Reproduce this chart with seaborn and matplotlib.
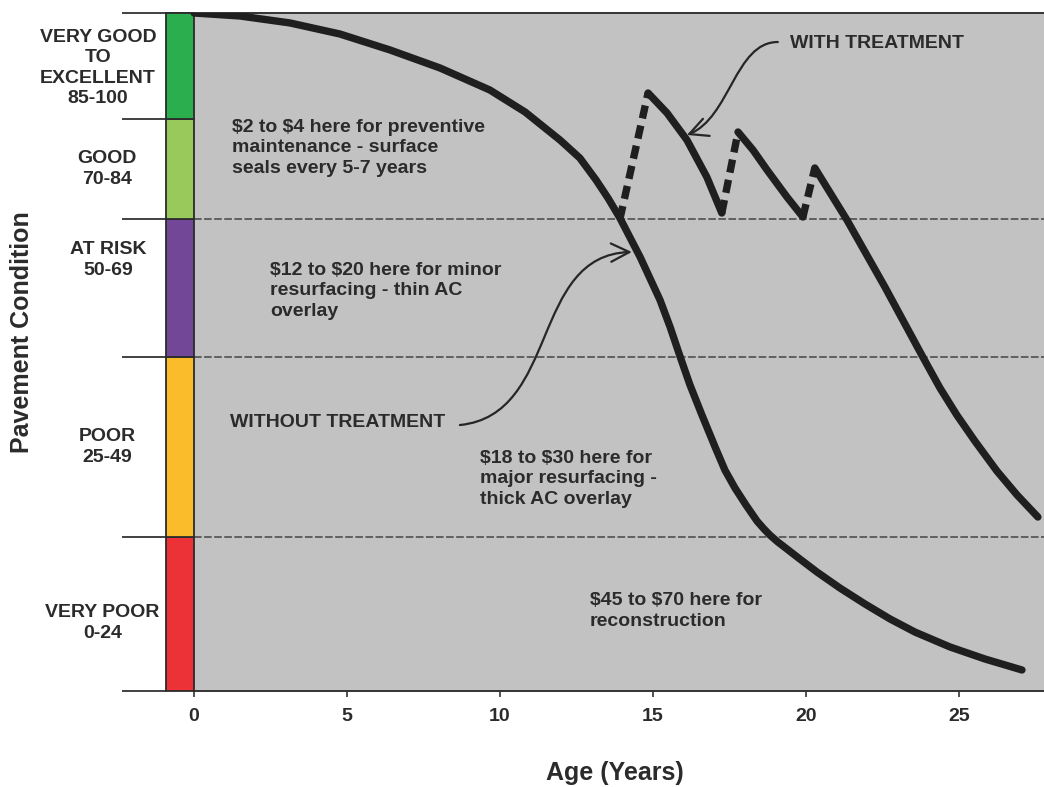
import numpy as np
import pandas as pd
import matplotlib
matplotlib.use("Agg")
import matplotlib.pyplot as plt
from matplotlib.path import Path
from matplotlib.patches import FancyArrowPatch
import seaborn as sns

# ---------------- data ----------------
# Without treatment curve (age in years, pavement condition index)
no_treat_age = [0.00, 1.50, 3.14, 4.77, 6.41, 8.04, 9.67, 10.82, 11.96, 12.61,
                13.14, 13.53, 13.92, 14.58, 15.23, 15.56, 15.88, 16.21, 16.60,
                17.03, 17.35, 17.68, 18.04, 18.40, 18.63, 18.82, 19.08, 19.38,
                19.80, 20.36, 21.11, 21.93, 22.75, 23.56, 24.71, 25.85, 27.06]
no_treat_cond = [100.0, 99.56, 98.53, 96.90, 94.54, 91.89, 88.64, 85.40, 81.27, 78.61,
                 75.37, 72.71, 69.76, 64.01, 57.67, 53.69, 49.41, 45.13, 40.71,
                 35.99, 32.60, 29.94, 27.43, 25.07, 23.89, 23.01, 21.98, 20.94,
                 19.47, 17.55, 15.19, 12.83, 10.62, 8.70, 6.49, 4.72, 3.10]

# With treatment curve, split into segments (dashed = treatment jump)
treat_age = [13.92, 14.84,
             14.84, 15.46, 16.11, 16.76, 17.25,
             17.25, 17.78,
             17.78, 18.27, 18.73, 19.38, 19.90,
             19.90, 20.29,
             20.29, 21.34, 22.58, 23.82, 24.38, 24.93, 25.52, 26.24, 26.90, 27.58]
treat_cond = [69.62, 88.20,
              88.20, 85.25, 81.27, 75.81, 70.50,
              70.50, 82.45,
              82.45, 79.79, 76.84, 72.86, 69.91,
              69.91, 77.14,
              77.14, 69.47, 59.59, 49.26, 44.69, 40.71, 36.87, 32.45, 28.91, 25.66]
treat_seg = [0, 0,
             1, 1, 1, 1, 1,
             2, 2,
             3, 3, 3, 3, 3,
             4, 4,
             5, 5, 5, 5, 5, 5, 5, 5, 5, 5]
treat_kind = (["dashed"] * 2 + ["solid"] * 5 + ["dashed"] * 2 + ["solid"] * 5
              + ["dashed"] * 2 + ["solid"] * 10)

# Condition bands (bottom, top) as drawn
band_bottom = [0.0, 22.71, 49.26, 69.62, 84.37]
band_top = [22.71, 49.26, 69.62, 84.37, 100.0]
band_colors = ["#EC3237", "#FBBC2C", "#734797", "#98C95A", "#2BAE4E"]
band_labels = ["VERY POOR\n0-24", "POOR\n25-49", "AT RISK\n50-69", "GOOD\n70-84",
               "VERY GOOD\nTO\nEXCELLENT\n85-100"]
band_label_x = [-3.00, -2.84, -2.81, -2.84, -3.14]
band_label_y = [10.03, 35.99, 63.57, 77.0, 91.9]
dashed_levels = [22.71, 49.26, 69.62]

x_ticks = [0, 5, 10, 15, 20, 25]

notes = [
    ("$2 to $4 here for preventive\nmaintenance - surface\nseals every 5-7 years", 1.24, 80.09),
    ("$12 to $20 here for minor\nresurfacing - thin AC\noverlay", 2.48, 59.0),
    ("WITHOUT TREATMENT", 1.18, 39.53),
    ("$18 to $30 here for\nmajor resurfacing -\nthick AC overlay", 9.35, 31.27),
    ("$45 to $70 here for\nreconstruction", 12.94, 11.80),
    ("WITH TREATMENT", 19.48, 95.43),
]

# ---------------- style ----------------
sns.set_theme(style="white")
plt.rcParams["font.family"] = ["Liberation Sans", "DejaVu Sans"]
plt.rcParams["font.weight"] = "bold"
plt.rcParams["text.parse_math"] = False

TXT = "#2b2b2b"
LINE = "#1f1f1f"
GREY = "#C3C2C3"

W, H = 1044, 787
fig = plt.figure(figsize=(W / 100, H / 100), dpi=100)
fig.patch.set_facecolor("white")
ax = fig.add_axes([165.7 / W, (H - 691) / H, (W - 165.7) / W, 678 / H])
ax.set_facecolor(GREY)
ax.set_xlim(-0.925, 27.78)
ax.set_ylim(0, 100)

# colour bands
ax.bar(x=[-0.4625] * 5, height=np.array(band_top) - np.array(band_bottom),
       bottom=band_bottom, width=0.925, color=band_colors,
       edgecolor="#2b2b2b", linewidth=1.3, align="center", clip_on=False, zorder=3)

# left boundary tick lines
edges = [0.0] + band_top
ax.hlines(edges, xmin=-2.35, xmax=-0.925, colors="#333333", lw=1.3, clip_on=False)

# dashed horizontal band boundaries
for lv in dashed_levels:
    ax.plot([0, 27.78], [lv, lv], color="#454545", lw=1.1, dashes=(5, 1.6), zorder=2)

# curves
sns.lineplot(x=no_treat_age, y=no_treat_cond, sort=False, color=LINE, lw=5.3,
             ax=ax, zorder=5, legend=False)
df = pd.DataFrame({"age": treat_age, "cond": treat_cond, "seg": treat_seg,
                   "kind": treat_kind})
sns.lineplot(data=df, x="age", y="cond", units="seg", style="kind",
             estimator=None, sort=False, color=LINE, lw=5.3,
             dashes={"solid": "", "dashed": (1.8, 1.0)}, ax=ax, zorder=5,
             legend=False)

# annotations text
for txt, x, y in notes:
    ax.text(x, y, txt, ha="left", va="center", fontsize=14, color=TXT,
            fontweight="bold", linespacing=1.25, zorder=6)

for lab, x, y in zip(band_labels, band_label_x, band_label_y):
    ax.text(x, y, lab, ha="center", va="center", fontsize=14, color=TXT,
            fontweight="bold", linespacing=1.25, clip_on=False)

# curved arrows
def curved_arrow(pts):
    path = Path(pts, [Path.MOVETO, Path.CURVE4, Path.CURVE4, Path.CURVE4])
    arr = FancyArrowPatch(path=path, arrowstyle="->,head_length=0.6,head_width=0.3",
                          mutation_scale=22, color="#262626", lw=1.6, zorder=6)
    ax.add_patch(arr)

curved_arrow([(19.08, 95.72), (17.68, 95.72), (17.52, 84.51), (16.11, 82.01)])
curved_arrow([(8.69, 39.23), (11.96, 40.71), (10.98, 64.31), (14.31, 64.75)])

# axes cosmetics
for s in ["left", "right"]:
    ax.spines[s].set_visible(False)
for s in ["top", "bottom"]:
    ax.spines[s].set_visible(True)
    ax.spines[s].set_color("#333333")
    ax.spines[s].set_linewidth(1.4)
ax.spines["bottom"].set_bounds(0, 27.78)
ax.set_xticks(x_ticks)
ax.set_xticklabels([str(t) for t in x_ticks])
ax.set_yticks([])
ax.tick_params(axis="x", direction="out", length=4, width=1.2, color="#333333",
               pad=8, labelsize=14, labelcolor=TXT, bottom=True)
for lab in ax.get_xticklabels():
    lab.set_fontweight("bold")
ax.grid(False)
ax.set_xlabel("")
ax.set_ylabel("")

fig.text(22 / W, 1 - 332 / H, "Pavement Condition", rotation=90, ha="center",
         va="center", fontsize=18, fontweight="bold", color=TXT)
fig.text(615 / W, 1 - 773 / H, "Age (Years)", ha="center", va="center",
         fontsize=18, fontweight="bold", color=TXT)

fig.savefig("out.png", dpi=100)
